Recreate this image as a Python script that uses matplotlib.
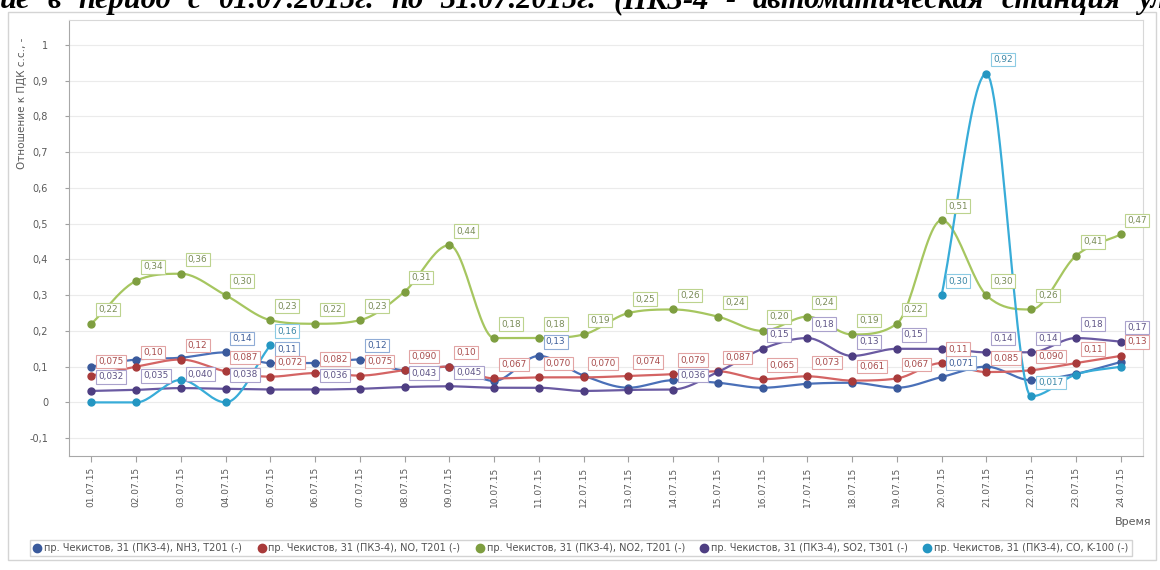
import numpy as np
import matplotlib
matplotlib.use("Agg")
import matplotlib.pyplot as plt
from matplotlib.lines import Line2D
from matplotlib.patches import Rectangle

# ---------------- data ----------------
dates = ["01.07.15", "02.07.15", "03.07.15", "04.07.15", "05.07.15", "06.07.15",
         "07.07.15", "08.07.15", "09.07.15", "10.07.15", "11.07.15", "12.07.15",
         "13.07.15", "14.07.15", "15.07.15", "16.07.15", "17.07.15", "18.07.15",
         "19.07.15", "20.07.15", "21.07.15", "22.07.15", "23.07.15", "24.07.15"]

nh3 = [0.10, 0.12, 0.125, 0.14, 0.11, 0.11, 0.12, 0.09, 0.10, 0.06, 0.13, 0.075,
       0.041, 0.062, 0.055, 0.041, 0.052, 0.055, 0.041, 0.071, 0.10, 0.062, 0.08, 0.113]
no = [0.075, 0.10, 0.12, 0.087, 0.072, 0.082, 0.075, 0.090, 0.10, 0.067, 0.070, 0.070,
      0.074, 0.079, 0.087, 0.065, 0.073, 0.061, 0.067, 0.11, 0.085, 0.090, 0.11, 0.13]
no2 = [0.22, 0.34, 0.36, 0.30, 0.23, 0.22, 0.23, 0.31, 0.44, 0.18, 0.18, 0.19,
       0.25, 0.26, 0.24, 0.20, 0.24, 0.19, 0.22, 0.51, 0.30, 0.26, 0.41, 0.47]
so2 = [0.032, 0.035, 0.040, 0.038, 0.036, 0.036, 0.038, 0.043, 0.045, 0.041, 0.041, 0.032,
       0.035, 0.036, 0.085, 0.15, 0.18, 0.13, 0.15, 0.15, 0.14, 0.14, 0.18, 0.17]
co = [0.0, 0.0, 0.063, 0.0, 0.16, None, None, None, None, None, None, None,
      None, None, None, None, None, None, None, 0.30, 0.92, 0.017, 0.078, 0.10]

# indices of points that carry a value label
nh3_lbl = [3, 4, 6, 10, 19]
no_lbl = list(range(24))
no2_lbl = list(range(24))
so2_lbl = [0, 1, 2, 3, 5, 7, 8, 13, 15, 16, 17, 18, 20, 21, 22, 23]
co_lbl = [4, 19, 20, 21]

series_names = [
    "пр. Чекистов, 31 (ПКЗ-4), NH3, T201 (-)",
    "пр. Чекистов, 31 (ПКЗ-4), NO, T201 (-)",
    "пр. Чекистов, 31 (ПКЗ-4), NO2, T201 (-)",
    "пр. Чекистов, 31 (ПКЗ-4), SO2, T301 (-)",
    "пр. Чекистов, 31 (ПКЗ-4), CO, K-100 (-)",
]
yticks = [-0.1, 0, 0.1, 0.2, 0.3, 0.4, 0.5, 0.6, 0.7, 0.8, 0.9, 1.0]
ytick_labels = ["-0,1", "0", "0,1", "0,2", "0,3", "0,4", "0,5", "0,6", "0,7", "0,8", "0,9", "1"]
heading_words = ["ие", "в", "период", "с", "01.07.2015г.", "по", "31.07.2015г.",
                 "(ПКЗ-4", "-", "автоматическая", "станция", "ул"]

# ---------------- style ----------------
# (line colour, marker colour, label text colour, label edge colour)
styles = [
    ("#4a70b8", "#3a5a9c", "#3f5f9a", "#90acd6"),
    ("#d46464", "#a83a3a", "#a84c4c", "#e2a4a4"),
    ("#a6c660", "#7e9e40", "#7a8c58", "#bcd38e"),
    ("#6a5aa2", "#4e3e82", "#5e5486", "#aaa2cc"),
    ("#38acd8", "#2496c2", "#3a86a6", "#8ccbe4"),
]

W, H = 1160, 570
fig = plt.figure(figsize=(W / 100, H / 100), dpi=100)
fig.patch.set_facecolor("white")

# outer panel
fig.add_artist(Rectangle((8 / W, 1 - 560 / H), (1156 - 8) / W, (560 - 12) / H,
                         transform=fig.transFigure, fill=False, ec="#d4d4d4", lw=1.0))

# cut-off (justified) heading of the document above the chart
title_kw = dict(fontsize=22, family="Liberation Serif", weight="bold", style="italic",
                va="baseline", ha="left", color="black")
renderer = fig.canvas.get_renderer()
word_artists = [fig.text(0, 1 - 8 / H, w, **title_kw) for w in heading_words]
widths = [t.get_window_extent(renderer=renderer).width for t in word_artists]
span_left, span_right = 0.0, 1166.0
gap = (span_right - span_left - sum(widths)) / (len(widths) - 1)
xcur = span_left
for t, wdt in zip(word_artists, widths):
    t.set_x(xcur / W)
    xcur += wdt + gap

ax = fig.add_axes([69 / W, 1 - 456 / H, (1143 - 69) / W, (456 - 20) / H])
ax.set_xlim(-0.5, 23.5)
ax.set_ylim(-0.15, 1.07)
ax.set_yticks(yticks)
ax.set_yticklabels(ytick_labels)
ax.set_xticks(range(len(dates)))
ax.set_xticklabels(dates, rotation=90)
ax.grid(axis="y", color="#ebebeb", lw=0.8)
ax.set_axisbelow(True)
ax.tick_params(axis="y", length=3, pad=12, color="#a0a0a0", labelsize=7, labelcolor="#5a5a5a")
ax.tick_params(axis="x", length=4, pad=4, color="#a0a0a0", labelsize=6.5, labelcolor="#5a5a5a")
for s in ["left", "bottom"]:
    ax.spines[s].set_color("#a8a8a8")
for s in ["top", "right"]:
    ax.spines[s].set_color("#d8d8d8")


def smooth_path(vals, n=24):
    """Monotone (Fritsch-Carlson) cubic through the given points, in data space."""
    y = np.array([np.nan if v is None else v for v in vals], dtype=float)
    x = np.arange(len(y), dtype=float)
    ox, oy = [], []
    i = 0
    while i < len(y):
        if np.isnan(y[i]):
            i += 1
            continue
        j = i
        while j + 1 < len(y) and not np.isnan(y[j + 1]):
            j += 1
        X, Y = x[i:j + 1], y[i:j + 1]
        m = len(Y)
        if m > 1:
            sec = np.diff(Y)
            d = np.zeros(m)
            d[0] = sec[0]
            d[-1] = sec[-1]
            for k in range(1, m - 1):
                if sec[k - 1] * sec[k] <= 0:
                    d[k] = 0.0
                else:
                    d[k] = (sec[k - 1] + sec[k]) / 2
                    lim = 3 * min(abs(sec[k - 1]), abs(sec[k]))
                    if abs(d[k]) > lim:
                        d[k] = np.sign(d[k]) * lim
            for k in range(m - 1):
                t = np.linspace(0, 1, n)
                h00 = 2 * t ** 3 - 3 * t ** 2 + 1
                h10 = t ** 3 - 2 * t ** 2 + t
                h01 = -2 * t ** 3 + 3 * t ** 2
                h11 = t ** 3 - t ** 2
                ox.extend(list(X[k] + t))
                oy.extend(list(h00 * Y[k] + h10 * d[k] + h01 * Y[k + 1] + h11 * d[k + 1]))
        ox.append(np.nan)
        oy.append(np.nan)
        i = j + 1
    return np.array(ox), np.array(oy), x, y


def fmt(v):
    s = f"{v:.2f}" if v >= 0.1 else f"{v:.3f}"
    return s.replace(".", ",")


all_series = [nh3, no, no2, so2, co]
all_lbl = [nh3_lbl, no_lbl, no2_lbl, so2_lbl, co_lbl]
handles = []
for k, (vals, lbl, st) in enumerate(zip(all_series, all_lbl, styles)):
    lc, mc, tc, ec = st
    sx, sy, px, py = smooth_path(vals)
    ax.plot(sx, sy, color=lc, lw=1.6, zorder=3 + k * 0.1, solid_capstyle="round")
    ax.plot(px, py, "o", ms=5, color=mc, mec=mc, zorder=4 + k * 0.1)
    for i in lbl:
        v = vals[i]
        ax.annotate(fmt(v), (i, v), xytext=(7, 14), textcoords="offset pixels",
                    ha="left", va="center", fontsize=6.4, color=tc, zorder=10,
                    bbox=dict(boxstyle="square,pad=0.25", fc="white", ec=ec, lw=0.8))
    handles.append(Line2D([], [], marker="o", ls="none", ms=6, color=mc))

fig.text(22 / W, 1 - 38 / H, "Отношение к ПДК с.с., -", rotation=90, ha="center", va="top",
         fontsize=7.5, color="#5a5a5a")
fig.text(1152 / W, 1 - 522 / H, "Время", ha="right", va="center", fontsize=8, color="#5a5a5a")

leg = fig.legend(handles, series_names, ncol=5, loc="center",
                 bbox_to_anchor=(581 / W, 1 - 548 / H), fontsize=7, frameon=True,
                 fancybox=False, edgecolor="#c8c8c8", handlelength=0.8, handletextpad=0.3,
                 columnspacing=1.6, borderpad=0.35)
for t in leg.get_texts():
    t.set_color("#505050")

fig.savefig("out.png", dpi=100)
